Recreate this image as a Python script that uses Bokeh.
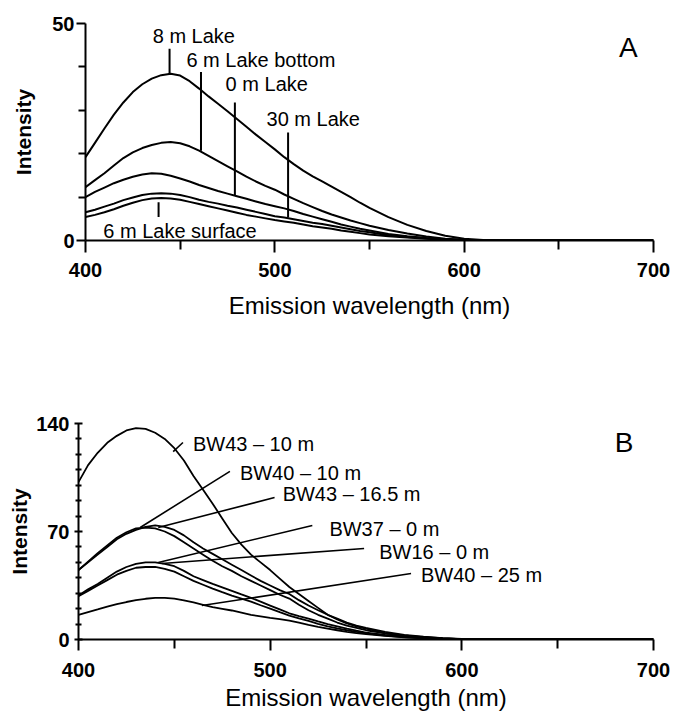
from bokeh.plotting import figure
from bokeh.models import Range1d, FixedTicker, Label
from bokeh.core.properties import value
from bokeh.embed import file_html
from bokeh.resources import INLINE

# ---------------- data ----------------
wavelength = [400, 405, 410, 415, 420, 425, 430, 435, 440, 445, 450, 455, 460, 465,
              470, 475, 480, 485, 490, 495, 500, 505, 510, 515, 520, 525, 530, 535,
              540, 545, 550, 560, 570, 580, 590, 600, 610, 620, 700]

# Panel A
lake_8m = [19.2, 22.5, 25.8, 29, 31.8, 34.2, 36, 37.3, 38.1, 38.4, 38, 36.7, 35, 33.2,
           31.5, 29.8, 28, 26.2, 24.4, 22.7, 21, 19.2, 17.6, 16.1, 14.8, 13.6, 12.4, 11.2,
           10, 8.7, 7.5, 5.4, 3.6, 2.2, 1.1, 0.4, 0.1, 0, 0]
lake_6m_bottom = [12.3, 13.9, 15.5, 17.3, 19, 20.3, 21.3, 22, 22.5, 22.7, 22.4, 21.7, 20.7, 19.5,
                  18.3, 17.1, 15.9, 14.7, 13.6, 12.6, 11.7, 10.6, 9.6, 8.6, 7.7, 6.8, 6, 5.3,
                  4.6, 4, 3.4, 2.4, 1.6, 0.9, 0.4, 0.15, 0.05, 0, 0]
lake_0m = [10, 11.2, 12.2, 13.2, 14, 14.7, 15.2, 15.5, 15.4, 14.9, 14.3, 13.6, 12.8, 12.1,
           11.4, 10.8, 10.2, 9.6, 9, 8.4, 7.9, 7.4, 6.8, 6.1, 5.5, 4.9, 4.3, 3.7,
           3.2, 2.7, 2.3, 1.5, 1, 0.6, 0.3, 0.1, 0.05, 0, 0]
lake_30m = [6.5, 7.1, 7.8, 8.5, 9.3, 9.9, 10.5, 10.8, 10.9, 10.8, 10.5, 10, 9.4, 8.9,
            8.5, 8, 7.6, 7.1, 6.6, 6.1, 5.6, 5.3, 4.9, 4.5, 4.1, 3.8, 3.4, 3,
            2.6, 2.2, 1.9, 1.2, 0.8, 0.5, 0.25, 0.1, 0.03, 0, 0]
lake_6m_surface = [5.4, 5.9, 6.5, 7.2, 8, 8.7, 9.3, 9.7, 9.8, 9.7, 9.4, 8.9, 8.4, 7.9,
                   7.4, 6.9, 6.4, 5.9, 5.5, 5.1, 4.7, 4.4, 4.1, 3.7, 3.3, 3, 2.7, 2.3,
                   2, 1.7, 1.4, 1, 0.7, 0.4, 0.2, 0.08, 0.02, 0, 0]

# Panel B
bw43_10m = [102, 113, 121, 127.5, 132, 135.5, 137, 136.5, 134, 130, 124, 116, 106, 97,
            88, 78.5, 69, 61.5, 55, 50, 45, 39.5, 34, 29.5, 25, 20.5, 16, 13,
            10.5, 8.5, 7, 4.2, 2.6, 1.5, 0.8, 0.3, 0.1, 0, 0]
bw43_16_5m = [45, 50, 55, 60, 65, 68.5, 71, 73, 74, 73, 71, 67.5, 63, 59,
              55.5, 52, 48.5, 45, 41.5, 38, 35, 32, 29.5, 25.5, 22, 19, 16, 13.5,
              11, 9, 7.5, 5, 3, 1.8, 0.9, 0.4, 0.1, 0, 0]
bw40_10m = [45, 50.5, 56, 61, 66, 69.5, 72, 72.5, 72, 70, 67, 63, 59, 55,
            51, 47.5, 44.5, 41, 38, 35, 32, 29, 26.5, 22.5, 19, 16, 13.5, 11,
            9, 7.5, 6, 4, 2.4, 1.4, 0.7, 0.3, 0.1, 0, 0]
bw37_0m = [28.5, 32.5, 36, 40, 44, 47, 49, 50, 50, 49, 47.5, 44.5, 41, 38.5,
           36, 33.8, 31.5, 29.2, 27, 24.5, 22, 19.5, 17, 15.2, 13.5, 11.7, 10, 8.5,
           7, 5.7, 4.5, 3, 1.8, 1, 0.5, 0.2, 0.05, 0, 0]
bw16_0m = [28, 31.5, 35, 38.5, 42, 44.5, 46.5, 47, 47, 45.8, 44, 41, 38, 35.5,
           33, 30.7, 28.5, 26.5, 24.5, 22.2, 20, 17.7, 15.5, 13.7, 12, 10.2, 8.5, 7.2,
           6, 5, 4, 2.6, 1.6, 0.9, 0.4, 0.15, 0.05, 0, 0]
bw40_25m = [16, 17.8, 19.5, 21.3, 23, 24.3, 25.5, 26.4, 27, 27, 26.5, 25.4, 24, 22.5,
            21, 19.9, 18.8, 17.4, 16, 15, 14, 13.2, 12.3, 10.9, 9.5, 8.2, 7, 6,
            5, 4.2, 3.5, 2.3, 1.4, 0.8, 0.4, 0.15, 0.05, 0, 0]

# ticks
x_major = [400, 500, 600, 700]
x_minor = [450, 550, 650]
a_y_major = [0, 50]
a_y_minor = [10, 20, 30, 40]
b_y_major = [0, 70, 140]
b_y_minor = [10, 20, 30, 40, 50, 60, 80, 90, 100, 110, 120, 130]

# annotations panel A
a_labels = ["8 m Lake", "6 m Lake bottom", "0 m Lake", "30 m Lake", "6 m Lake surface"]
a_label_x = [435.5, 453.3, 474, 495.6, 409.4]
a_label_y = [47.2, 41.6, 36, 28, 2.3]
a_lead_x = [444.4, 461, 478.9, 507, 438.6]
a_lead_y0 = [44.2, 38.8, 31.8, 24.9, 8.8]
a_lead_y1 = [38.3, 20.7, 10.4, 5.3, 5.4]

# annotations panel B
b_labels = ["BW43 \u2013 10 m", "BW40 \u2013 10 m", "BW43 \u2013 16.5 m",
            "BW37 \u2013 0 m", "BW16 \u2013 0 m", "BW40 \u2013 25 m"]
b_label_x = [459.7, 484.2, 506.5, 530.9, 556.9, 578.7]
b_label_y = [127, 108, 94, 71.3, 56.4, 41.5]
b_lead_x0 = [454.5, 479, 502.3, 522, 549, 573.5]
b_lead_y0 = [127.7, 109, 92, 73.9, 59, 42.8]
b_lead_x1 = [449.4, 432.2, 441.6, 441.6, 443.6, 464.4]
b_lead_y1 = [121.8, 72.6, 72.6, 49.9, 49.3, 22]

FONT = "Liberation Sans"


def base_style(p):
    p.xgrid.visible = False
    p.ygrid.visible = False
    p.outline_line_color = None
    p.background_fill_color = "white"
    p.border_fill_color = "white"
    for ax in (p.xaxis[0], p.yaxis[0]):
        ax.axis_line_width = 2
        ax.axis_line_color = "black"
        ax.major_tick_line_width = 2
        ax.minor_tick_line_width = 2
        ax.major_tick_line_color = "black"
        ax.minor_tick_line_color = "black"
        ax.major_label_text_font = FONT
        ax.major_label_text_font_size = "20px"
        ax.major_label_text_font_style = "bold"
        ax.major_label_text_color = "black"
        ax.axis_label_text_font = FONT
        ax.axis_label_text_color = "black"
    p.xaxis.axis_label = "Emission wavelength (nm)"
    p.xaxis.axis_label_text_font_size = "24px"
    p.xaxis.axis_label_text_font_style = "normal"
    p.yaxis.axis_label = "Intensity"
    p.yaxis.axis_label_text_font_size = "21px"
    p.yaxis.axis_label_text_font_style = "bold"
    p.xaxis.ticker = FixedTicker(ticks=x_major, minor_ticks=x_minor)
    p.xaxis.major_tick_in = 0
    p.xaxis.minor_tick_in = 0


# ---------------- panel A ----------------
pA = figure(width=670, height=330, x_range=Range1d(400, 700), y_range=Range1d(0, 50),
            output_backend="svg", toolbar_location=None,
            min_border_left=85, min_border_right=17, min_border_top=23, min_border_bottom=90)
base_style(pA)
pA.yaxis.ticker = FixedTicker(ticks=a_y_major, minor_ticks=a_y_minor)
pA.yaxis.major_tick_in = 0
pA.yaxis.major_tick_out = 9
pA.yaxis.minor_tick_in = 0
pA.yaxis.minor_tick_out = 7
pA.yaxis.major_label_standoff = 2
pA.yaxis.axis_label_standoff = 14
pA.xaxis.major_tick_out = 12
pA.xaxis.minor_tick_out = 9
pA.xaxis.major_label_standoff = 10
pA.xaxis.axis_label_standoff = 12

for series in (lake_8m, lake_6m_bottom, lake_0m, lake_30m, lake_6m_surface):
    pA.line(wavelength, series, line_color="black", line_width=2)

pA.segment(x0=a_lead_x, y0=a_lead_y0, x1=a_lead_x, y1=a_lead_y1,
           line_color="black", line_width=2)
pA.text(x=a_label_x, y=a_label_y, text=a_labels, text_font=value(FONT),
        text_font_size=value("20px"), text_baseline="middle", text_align="left",
        text_color="black")
pA.add_layout(Label(x=686.7, y=44.5, text="A", text_font=FONT, text_font_size="28px",
                    text_align="center", text_baseline="middle", text_color="black"))

# ---------------- panel B ----------------
pB = figure(width=670, height=384, x_range=Range1d(400, 700), y_range=Range1d(0, 140),
            output_backend="svg", toolbar_location=None,
            min_border_left=78, min_border_right=17, min_border_top=93, min_border_bottom=75)
base_style(pB)
pB.yaxis.ticker = FixedTicker(ticks=b_y_major, minor_ticks=b_y_minor)
pB.yaxis.major_tick_in = 4
pB.yaxis.major_tick_out = 4
pB.yaxis.minor_tick_in = 3
pB.yaxis.minor_tick_out = 3
pB.yaxis.major_label_standoff = 5
pB.yaxis.axis_label_standoff = 2
pB.xaxis.major_tick_out = 11
pB.xaxis.minor_tick_out = 9
pB.xaxis.major_label_standoff = 12
pB.xaxis.axis_label_standoff = 4

for series in (bw43_10m, bw43_16_5m, bw40_10m, bw37_0m, bw16_0m, bw40_25m):
    pB.line(wavelength, series, line_color="black", line_width=1.8)

pB.segment(x0=b_lead_x0, y0=b_lead_y0, x1=b_lead_x1, y1=b_lead_y1,
           line_color="black", line_width=1.6)
pB.text(x=b_label_x, y=b_label_y, text=b_labels, text_font=value(FONT),
        text_font_size=value("20px"), text_baseline="middle", text_align="left",
        text_color="black")
pB.add_layout(Label(x=684.7, y=127.7, text="B", text_font=FONT, text_font_size="28px",
                    text_align="center", text_baseline="middle", text_color="black"))

open("out.html", "w").write(file_html([pA, pB], INLINE))
